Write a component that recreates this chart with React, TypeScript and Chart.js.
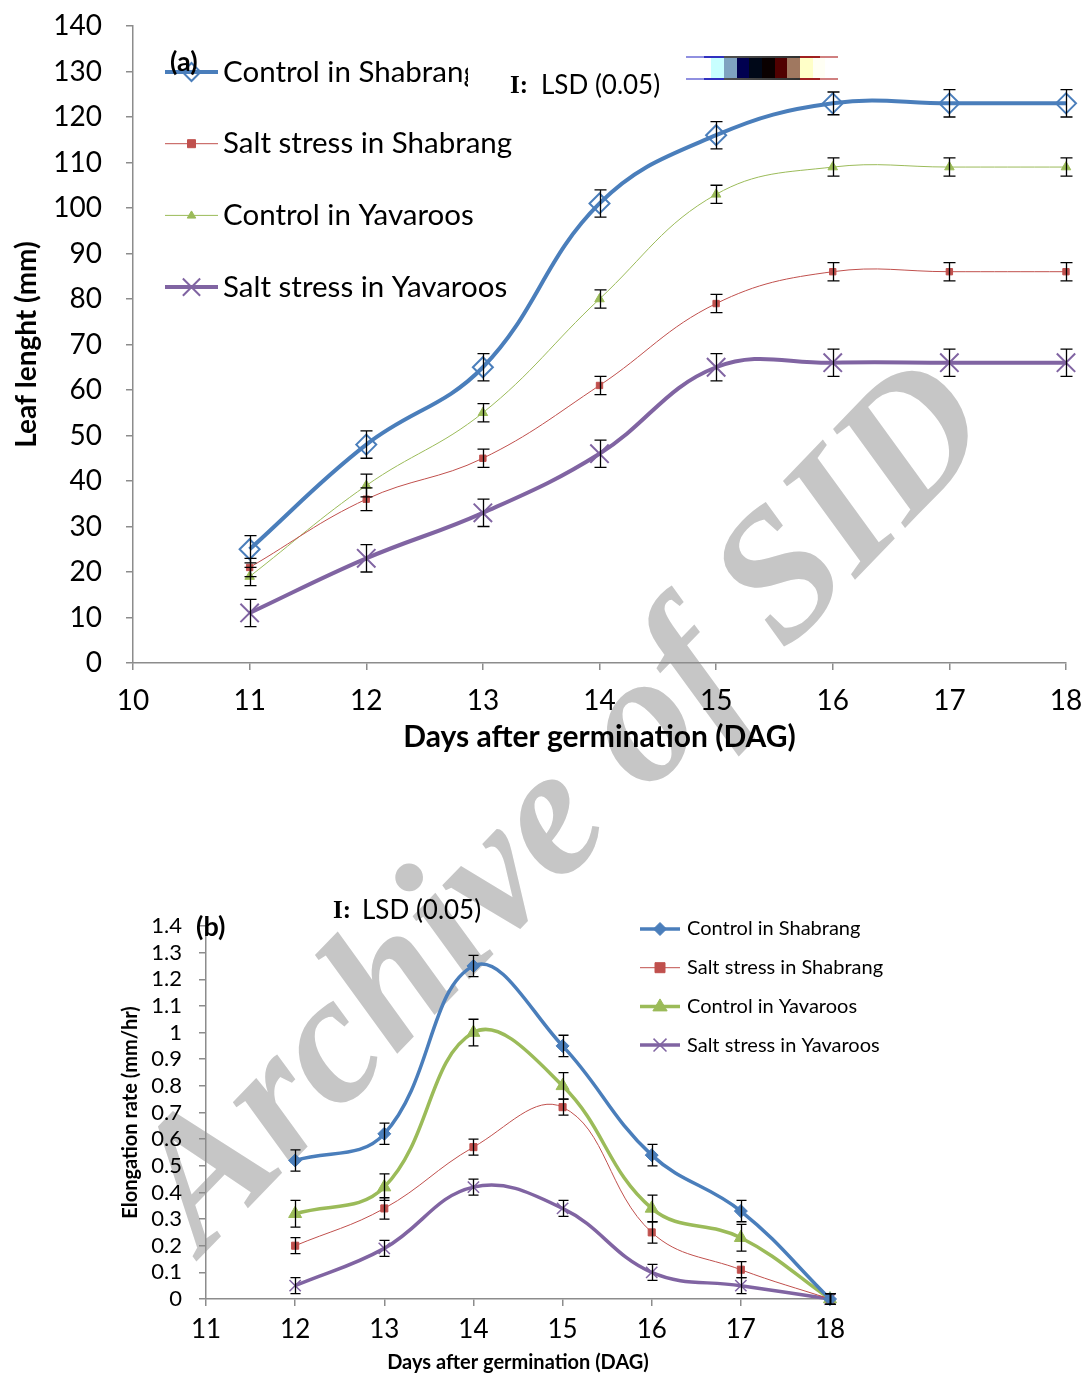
import React, { useEffect, useRef } from "react";
import { Chart, registerables } from "chart.js";

Chart.register(...registerables);

const FONT = "Lato, 'Open Sans', sans-serif";

// ---------- Data: chart (a) leaf length ----------
const seriesLabels = [
  "Control in Shabrang",
  "Salt stress in Shabrang",
  "Control in Yavaroos",
  "Salt stress in Yavaroos",
];
const daysA = [11, 12, 13, 14, 15, 16, 17, 18];
const leafCtrlShabrang = [25, 48, 65, 101, 116, 123, 123, 123];
const leafSaltShabrang = [21, 36, 45, 61, 79, 86, 86, 86];
const leafCtrlYavaroos = [19, 39, 55, 80, 103, 109, 109, 109];
const leafSaltYavaroos = [11, 23, 33, 46, 65, 66, 66, 66];
const leafErrCtrlShabrang = [3, 3, 3, 3, 3, 2.5, 3, 3];
const leafErrSaltShabrang = [2, 2.5, 2, 2, 2, 2, 2, 2];
const leafErrCtrlYavaroos = [2, 2.5, 2, 2, 2, 2, 2, 2];
const leafErrSaltYavaroos = [3, 3, 3, 3, 3, 3, 3, 3];

// ---------- Data: chart (b) elongation rate ----------
const daysB = [12, 13, 14, 15, 16, 17, 18];
const rateCtrlShabrang = [0.52, 0.62, 1.25, 0.95, 0.54, 0.33, 0.0];
const rateSaltShabrang = [0.2, 0.34, 0.57, 0.72, 0.25, 0.11, 0.0];
const rateCtrlYavaroos = [0.32, 0.42, 1.0, 0.8, 0.34, 0.23, 0.0];
const rateSaltYavaroos = [0.05, 0.19, 0.42, 0.34, 0.1, 0.05, 0.0];
const rateErrCtrlShabrang = [0.04, 0.04, 0.04, 0.04, 0.04, 0.04, 0.02];
const rateErrSaltShabrang = [0.03, 0.04, 0.03, 0.03, 0.04, 0.03, 0.02];
const rateErrCtrlYavaroos = [0.05, 0.05, 0.05, 0.05, 0.05, 0.05, 0.02];
const rateErrSaltYavaroos = [0.03, 0.03, 0.03, 0.03, 0.03, 0.03, 0.02];

const COLORS = ["#4a7ebb", "#c0504d", "#9bbb59", "#8064a2"];

function drawMarker(ctx: CanvasRenderingContext2D, style: string, x: number, y: number, r: number, fill: string, stroke: string, bw: number) {
  ctx.save();
  ctx.beginPath();
  if (style === "rectRot") {
    ctx.moveTo(x, y - r);
    ctx.lineTo(x + r, y);
    ctx.lineTo(x, y + r);
    ctx.lineTo(x - r, y);
    ctx.closePath();
  } else if (style === "rect") {
    ctx.rect(x - r, y - r, 2 * r, 2 * r);
  } else if (style === "triangle") {
    ctx.moveTo(x, y - r);
    ctx.lineTo(x + r * 0.95, y + r * 0.6);
    ctx.lineTo(x - r * 0.95, y + r * 0.6);
    ctx.closePath();
  } else if (style === "crossRot") {
    const d = r * 0.72;
    ctx.moveTo(x - d, y - d);
    ctx.lineTo(x + d, y + d);
    ctx.moveTo(x + d, y - d);
    ctx.lineTo(x - d, y + d);
  }
  if (style !== "crossRot") {
    ctx.fillStyle = fill;
    ctx.fill();
  }
  ctx.lineWidth = bw;
  ctx.strokeStyle = stroke;
  ctx.stroke();
  ctx.restore();
}

const errorBarPlugin = {
  id: "errorBars",
  afterDatasetsDraw(chart: any, _args: any, opts: any) {
    const { ctx } = chart;
    const xs = chart.scales.x;
    const ys = chart.scales.y;
    ctx.save();
    ctx.strokeStyle = "#000";
    ctx.lineWidth = opts.width || 1.3;
    const cap = opts.cap || 6;
    chart.data.datasets.forEach((ds: any) => {
      const errs = ds.errors;
      if (!errs) return;
      ds.data.forEach((pt: any, i: number) => {
        const px = Math.round(xs.getPixelForValue(pt.x)) + 0.5;
        const t = ys.getPixelForValue(pt.y + errs[i]);
        const b = ys.getPixelForValue(pt.y - errs[i]);
        ctx.beginPath();
        ctx.moveTo(px, t);
        ctx.lineTo(px, b);
        ctx.moveTo(px - cap, t);
        ctx.lineTo(px + cap, t);
        ctx.moveTo(px - cap, b);
        ctx.lineTo(px + cap, b);
        ctx.stroke();
      });
    });
    ctx.restore();
  },
};

const legendPlugin = {
  id: "customLegend",
  afterDraw(chart: any, _args: any, opts: any) {
    const { ctx } = chart;
    chart.data.datasets.forEach((ds: any, i: number) => {
      const y = opts.y + i * opts.gap;
      ctx.save();
      ctx.strokeStyle = ds.borderColor;
      ctx.lineWidth = ds.borderWidth;
      ctx.beginPath();
      ctx.moveTo(opts.x, y);
      ctx.lineTo(opts.x + opts.sample, y);
      ctx.stroke();
      const m = opts.markers[i];
      drawMarker(ctx, ds.pointStyle, opts.x + opts.sample / 2, y, m, ds.pointBackgroundColor, ds.pointBorderColor, ds.pointBorderWidth);
      ctx.fillStyle = "#000";
      ctx.font = opts.font;
      ctx.textBaseline = "middle";
      if (opts.clipRight && opts.clipRight[i]) {
        ctx.beginPath();
        ctx.rect(0, y - 40, opts.clipRight[i], 80);
        ctx.clip();
      }
      ctx.fillText(ds.label, opts.textX, y);
      ctx.restore();
    });
  },
};

function makeDataset(label: string, xs: number[], ys: number[], errs: number[], style: any) {
  return {
    label,
    data: xs.map((x, i) => ({ x, y: ys[i] })),
    errors: errs,
    tension: 0.4,
    clip: false,
    ...style,
  };
}

const axisGray = "#8c8c8c";

const fitX = (h: number) => (s: any) => {
  s.height = h;
  s.paddingLeft = 0;
  s.paddingRight = 0;
  s.paddingTop = 0;
  s.paddingBottom = 0;
};
const fitY = (w: number) => (s: any) => {
  s.width = w;
  s.paddingLeft = 0;
  s.paddingRight = 0;
  s.paddingTop = 0;
  s.paddingBottom = 0;
};

function configA(): any {
  return {
    type: "line",
    data: {
      datasets: [
        makeDataset(seriesLabels[0], daysA, leafCtrlShabrang, leafErrCtrlShabrang, {
          borderColor: COLORS[0], borderWidth: 4, pointStyle: "rectRot", pointRadius: 10,
          pointBorderWidth: 2, pointBackgroundColor: "rgba(255,255,255,0)", pointBorderColor: COLORS[0],
        }),
        makeDataset(seriesLabels[1], daysA, leafSaltShabrang, leafErrSaltShabrang, {
          borderColor: COLORS[1], borderWidth: 1, pointStyle: "rect", pointRadius: 4.5,
          pointBorderWidth: 1, pointBackgroundColor: COLORS[1], pointBorderColor: COLORS[1],
        }),
        makeDataset(seriesLabels[2], daysA, leafCtrlYavaroos, leafErrCtrlYavaroos, {
          borderColor: COLORS[2], borderWidth: 1, pointStyle: "triangle", pointRadius: 5.5,
          pointBorderWidth: 1, pointBackgroundColor: COLORS[2], pointBorderColor: COLORS[2],
        }),
        makeDataset(seriesLabels[3], daysA, leafSaltYavaroos, leafErrSaltYavaroos, {
          borderColor: COLORS[3], borderWidth: 4, pointStyle: "crossRot", pointRadius: 13,
          pointBorderWidth: 2, pointBackgroundColor: COLORS[3], pointBorderColor: COLORS[3],
        }),
      ],
    },
    options: {
      responsive: false,
      animation: false,
      events: [],
      layout: { padding: { left: 0, top: 26, right: 19, bottom: 0 } },
      plugins: {
        legend: { display: false },
        tooltip: { enabled: false },
        errorBars: { width: 1.3, cap: 6 },
        customLegend: {
          x: 165, y: 72, gap: 71.7, sample: 53, textX: 223,
          font: `29.5px ${FONT}`, markers: [9, 4, 4.5, 12], clipRight: [468, 0, 0, 0],
        },
      },
      scales: {
        x: {
          type: "linear", min: 10, max: 18,
          ticks: { stepSize: 1, autoSkip: false, padding: 14, color: "#000", font: { family: FONT, size: 28 } },
          grid: { display: true, drawOnChartArea: false, drawTicks: true, tickLength: 7, color: axisGray, lineWidth: 1.5 },
          border: { color: axisGray, width: 1.5 },
          title: { display: true, text: "Days after germination (DAG)", color: "#000", font: { family: FONT, size: 30, weight: "bold" }, padding: { top: 0, bottom: 5 } },
          afterFit: fitX(97),
        },
        y: {
          min: 0, max: 140,
          ticks: { stepSize: 10, autoSkip: false, padding: 24, color: "#000", font: { family: FONT, size: 28 } },
          grid: { display: true, drawOnChartArea: false, drawTicks: true, tickLength: 7, color: axisGray, lineWidth: 1.5 },
          border: { color: axisGray, width: 1.5 },
          title: { display: true, text: "Leaf lenght (mm)", color: "#000", font: { family: FONT, size: 28, weight: "bold" }, padding: { top: 10, bottom: 0 } },
          afterFit: fitY(133),
        },
      },
    },
    plugins: [errorBarPlugin, legendPlugin],
  };
}

function configB(): any {
  return {
    type: "line",
    data: {
      datasets: [
        makeDataset(seriesLabels[0], daysB, rateCtrlShabrang, rateErrCtrlShabrang, {
          borderColor: COLORS[0], borderWidth: 3.5, pointStyle: "rectRot", pointRadius: 6.5,
          pointBorderWidth: 1, pointBackgroundColor: COLORS[0], pointBorderColor: COLORS[0],
        }),
        makeDataset(seriesLabels[1], daysB, rateSaltShabrang, rateErrSaltShabrang, {
          borderColor: COLORS[1], borderWidth: 1, pointStyle: "rect", pointRadius: 5,
          pointBorderWidth: 1, pointBackgroundColor: COLORS[1], pointBorderColor: COLORS[1],
        }),
        makeDataset(seriesLabels[2], daysB, rateCtrlYavaroos, rateErrCtrlYavaroos, {
          borderColor: COLORS[2], borderWidth: 3.5, pointStyle: "triangle", pointRadius: 7.5,
          pointBorderWidth: 1, pointBackgroundColor: COLORS[2], pointBorderColor: COLORS[2],
        }),
        makeDataset(seriesLabels[3], daysB, rateSaltYavaroos, rateErrSaltYavaroos, {
          borderColor: COLORS[3], borderWidth: 3.5, pointStyle: "crossRot", pointRadius: 8,
          pointBorderWidth: 1.5, pointBackgroundColor: COLORS[3], pointBorderColor: COLORS[3],
        }),
      ],
    },
    options: {
      responsive: false,
      animation: false,
      events: [],
      layout: { padding: { left: 0, top: 66, right: 255, bottom: 0 } },
      plugins: {
        legend: { display: false },
        tooltip: { enabled: false },
        errorBars: { width: 1.3, cap: 5 },
        customLegend: {
          x: 640, y: 69, gap: 38.7, sample: 40, textX: 687,
          font: `20px ${FONT}`, markers: [6.5, 5, 7.5, 9],
        },
      },
      scales: {
        x: {
          type: "linear", min: 11, max: 18,
          ticks: { stepSize: 1, autoSkip: false, padding: 8, color: "#000", font: { family: FONT, size: 26 } },
          grid: { display: true, drawOnChartArea: false, drawTicks: true, tickLength: 7, color: axisGray, lineWidth: 1.5 },
          border: { color: axisGray, width: 1.5 },
          title: { display: true, text: "Days after germination (DAG)", color: "#000", font: { family: FONT, size: 20, weight: "bold" }, padding: { top: 0, bottom: 0 } },
          afterFit: fitX(76),
        },
        y: {
          min: 0, max: 1.4,
          ticks: {
            stepSize: 0.1, autoSkip: false, padding: 17, color: "#000", font: { family: FONT, size: 22 },
            callback: (v: number) => String(Math.round(v * 10) / 10),
          },
          grid: { display: true, drawOnChartArea: false, drawTicks: true, tickLength: 7, color: axisGray, lineWidth: 1.5 },
          border: { color: axisGray, width: 1.5 },
          title: { display: true, text: "Elongation rate (mm/hr)", color: "#000", font: { family: FONT, size: 20, weight: "bold" }, padding: { top: 119, bottom: 0 } },
          afterFit: fitY(206),
        },
      },
    },
    plugins: [errorBarPlugin, legendPlugin],
  };
}

function ChartCanvas({ make, left, top, width, height }: any) {
  const ref = useRef<HTMLCanvasElement>(null);
  useEffect(() => {
    const chart = new Chart(ref.current as HTMLCanvasElement, make());
    return () => chart.destroy();
  }, []);
  return (
    <canvas
      ref={ref}
      width={width}
      height={height}
      style={{ position: "absolute", left, top, width, height, zIndex: 1 }}
    />
  );
}

function Label({ text, left, cy, size, bold, serif }: any) {
  return (
    <div
      style={{
        position: "absolute", left, top: cy - size * 0.6, fontSize: size, lineHeight: 1.2,
        fontFamily: serif ? "'Liberation Serif', 'DejaVu Serif', serif" : FONT,
        fontWeight: bold ? "bold" : "normal", whiteSpace: "nowrap", color: "#000", zIndex: 2,
      }}
    >
      {text}
    </div>
  );
}

const stripColors = ["#ffffff", "#ffffff", "#c8ffff", "#7fa3c0", "#000050", "#000818", "#0a0000", "#500000", "#a07860", "#ffffc8", "#fffff4", "#ffffff"];
const stripEdge = "linear-gradient(to right, #9090e0 0%, #9090e0 12%, #3030c0 12%, #3030c0 25%, #505050 25%, #303030 75%, #a02020 75%, #a02020 88%, #d08080 88%)";

export default function App() {
  return (
    <div style={{ position: "absolute", left: 0, top: 0, width: 1085, height: 1375, background: "#fff", overflow: "hidden" }}>
      <div
        style={{
          position: "absolute", left: 556, top: 800, transform: "translate(-50%, -50%) rotate(-46deg)",
          fontFamily: "'Liberation Serif', 'DejaVu Serif', serif", fontWeight: "bold", fontStyle: "italic",
          fontSize: 184, lineHeight: 1, color: "#c6c6c6", whiteSpace: "nowrap", zIndex: 0,
        }}
      >
        Archive of SID
      </div>
      <ChartCanvas make={configA} left={0} top={0} width={1085} height={760} />
      <ChartCanvas make={configB} left={0} top={860} width={1085} height={515} />
      <Label text="(a)" left={170} cy={61} size={27} bold />
      <Label text="I:" left={510} cy={85} size={25} bold serif />
      <Label text="LSD (0.05)" left={541} cy={85} size={26} />
      <Label text="(b)" left={196} cy={926} size={27} bold />
      <Label text="I:" left={333} cy={910} size={25} bold serif />
      <Label text="LSD (0.05)" left={362} cy={910} size={26} />
      <div style={{ position: "absolute", left: 686, top: 56, width: 152, height: 24, display: "flex", flexDirection: "column", zIndex: 2 }}>
        <div style={{ height: 2, background: stripEdge }} />
        <div style={{ flex: 1, display: "flex" }}>
          {stripColors.map((c, i) => (
            <div key={i} style={{ flex: 1, background: c }} />
          ))}
        </div>
        <div style={{ height: 2, background: stripEdge }} />
      </div>
    </div>
  );
}
